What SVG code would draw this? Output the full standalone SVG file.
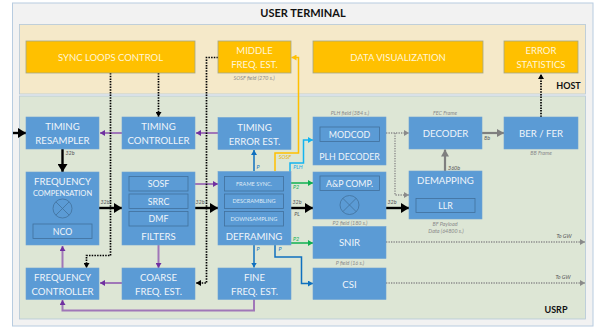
<svg xmlns="http://www.w3.org/2000/svg" width="600" height="330" viewBox="0 0 600 330">
<style>
text{font-family:Lato,"Open Sans","Liberation Sans",sans-serif;text-anchor:middle}
.t{fill:#f0f5fa;font-size:9.600px}
.n{fill:#f0f5fa;font-size:8.800px}
.o{fill:#fff6d8;font-size:9.500px}
.s{fill:#dfeaf5;font-size:5.600px}
.m{fill:#f0f5fa;font-size:7.500px}
.h{fill:#111;font-weight:700}
.c{fill:#8a8a8a;font-size:5.400px;font-style:italic}
.d{fill:#555;font-size:5.400px;font-style:italic}
.b{fill:#5b9bd5;stroke:#6ea3d4;stroke-width:.6}
.i{fill:none;stroke:#41719c;stroke-width:.8}
.y{fill:#ffc000;stroke:#a3a789;stroke-width:.8}
.l{fill:none}
.k{stroke:#000;stroke-width:2.400;marker-end:url(#ak)}
.kd{stroke:#000;stroke-width:1.700;stroke-dasharray:1.500 1.200;marker-end:url(#akd)}
.p{stroke:#a077b8;stroke-width:2;marker-end:url(#ap)}
.g{stroke:#7f7f7f;stroke-width:2.200;marker-end:url(#ag)}
.gd{stroke:#8a8a8a;stroke-width:1.400;stroke-dasharray:1.300 1.200;marker-end:url(#agd)}
.bl{stroke:#0f70bf;stroke-width:1.500;marker-end:url(#abl)}
.gr{stroke:#0fb050;stroke-width:1.500;marker-end:url(#agr)}
.cy{stroke:#14b4f0;stroke-width:1.500;marker-end:url(#acy)}
.or{stroke:#ffc000;stroke-width:1.500;marker-end:url(#aor)}
</style>
<defs>
<marker id="ak" markerUnits="userSpaceOnUse" markerWidth="9" markerHeight="10" refX="8" refY="5" orient="auto"><path d="M0 0L8 5L0 10z" fill="#000"/></marker>
<marker id="akd" markerUnits="userSpaceOnUse" markerWidth="6" markerHeight="6" refX="5" refY="3" orient="auto"><path d="M0 0L5 3L0 6z" fill="#000"/></marker>
<marker id="ap" markerUnits="userSpaceOnUse" markerWidth="6" markerHeight="6" refX="5" refY="3" orient="auto"><path d="M0 0L5 3L0 6z" fill="#7030a0"/></marker>
<marker id="ag" markerUnits="userSpaceOnUse" markerWidth="8" markerHeight="8" refX="7" refY="4" orient="auto"><path d="M0 0L7 4L0 8z" fill="#7f7f7f"/></marker>
<marker id="agd" markerUnits="userSpaceOnUse" markerWidth="6" markerHeight="6" refX="5" refY="3" orient="auto"><path d="M0 0L5 3L0 6z" fill="#8a8a8a"/></marker>
<marker id="abl" markerUnits="userSpaceOnUse" markerWidth="6" markerHeight="6" refX="5" refY="3" orient="auto"><path d="M0 0L5 3L0 6z" fill="#0f70bf"/></marker>
<marker id="agr" markerUnits="userSpaceOnUse" markerWidth="6" markerHeight="6" refX="5" refY="3" orient="auto"><path d="M0 0L5 3L0 6z" fill="#0fb050"/></marker>
<marker id="acy" markerUnits="userSpaceOnUse" markerWidth="6" markerHeight="6" refX="5" refY="3" orient="auto"><path d="M0 0L5 3L0 6z" fill="#14b4f0"/></marker>
<marker id="aor" markerUnits="userSpaceOnUse" markerWidth="6" markerHeight="6" refX="5" refY="3" orient="auto"><path d="M0 0L5 3L0 6z" fill="#ffc000"/></marker>
</defs>
<rect width="600" height="330" fill="#fff"/>
<g id="user-terminal">
<rect x="12.500" y="3" width="580.500" height="323" fill="#f2f2f2" stroke="#b8cce0" stroke-width="1"/>
<text class="h" x="303" y="17" style="font-size:11px">USER TERMINAL</text>
</g>
<g id="host">
<rect x="19.500" y="24.500" width="566" height="69.500" fill="#f5e9c9" stroke="#b4c7d8" stroke-width=".8"/>
<text class="h" x="568.500" y="89" style="font-size:9px">HOST</text>
</g>
<g id="usrp">
<rect x="19.500" y="96" width="566" height="223" fill="#dde6d5" stroke="#b4c7d8" stroke-width=".8"/>
<text class="h" x="556" y="313" style="font-size:9px">USRP</text>
</g>
<g id="connectors" class="l">
<path class="k" d="M13 133H26"/>
<path class="k" d="M62.500 149V172"/>
<path class="k" d="M99 208H122"/>
<path class="k" d="M195 208H218"/>
<path class="k" d="M291 208H313"/>
<path class="k" d="M386 208H409"/>
<path class="p" d="M122 133H100"/>
<path class="p" d="M218 133H196"/>
<path class="p" d="M195 184H218"/>
<path class="p" d="M158.500 245V268"/>
<path class="p" d="M122 283H100"/>
<path class="p" d="M62.500 268V246"/>
<path class="p" d="M254 299V310.500H62.500V300"/>
<path class="kd" d="M110.500 73V255.500H86.500V268"/>
<path class="kd" d="M158.500 73V117"/>
<path class="kd" d="M218 57.500H206.500V283H196"/>
<path class="kd" d="M541 117V74"/>
<path class="or" d="M275 171V153H298.500V57.500H291.500"/>
<path class="cy" d="M290 172V163H303.500V140H313"/>
<path class="bl" d="M254 171V150"/>
<path class="bl" d="M254 245V267.500"/>
<path class="bl" d="M275 245V257H301.500V283.500H313"/>
<path class="gr" d="M291 183H313"/>
<path class="gr" d="M291 243H313"/>
<path class="g" d="M482 133H504"/>
<path class="g" d="M445 171V149.500"/>
<path class="gd" d="M386 133H409"/>
<path class="gd" d="M395 133V195H409"/>
<path class="gd" d="M386 242H585"/>
<path class="gd" d="M386 283H585"/>
</g>
<g id="sync-loops-control"><rect class="y" x="26" y="41" width="169" height="32"/><text class="o" x="110.500" y="60.500">SYNC LOOPS CONTROL</text></g>
<g id="middle-freq-est"><rect class="y" x="218" y="41" width="73" height="32"/><text class="o" x="254.500" y="54">MIDDLE</text><text class="o" x="254.500" y="68">FREQ. EST.</text></g>
<g id="data-visualization"><rect class="y" x="313" y="41" width="170" height="32"/><text class="o" x="398" y="60.500">DATA VISUALIZATION</text></g>
<g id="error-statistics"><rect class="y" x="504" y="41" width="74" height="32"/><text class="o" x="541" y="54">ERROR</text><text class="o" x="541" y="68">STATISTICS</text></g>
<g id="timing-resampler"><rect class="b" x="26" y="117" width="73" height="32"/><text class="t" x="62.500" y="130">TIMING</text><text class="t" x="62.500" y="144">RESAMPLER</text></g>
<g id="timing-controller"><rect class="b" x="122" y="117" width="73" height="32"/><text class="t" x="158.500" y="130">TIMING</text><text class="t" x="158.500" y="144">CONTROLLER</text></g>
<g id="timing-error-est"><rect class="b" x="218" y="117.500" width="73" height="32"/><text class="t" x="254.500" y="130.500">TIMING</text><text class="t" x="254.500" y="144.500">ERROR EST.</text></g>
<g id="plh-decoder"><rect class="b" x="313" y="117" width="73" height="48"/><rect class="i" x="320" y="127" width="59.500" height="14.500"/><text class="n" x="349.500" y="137.500">MODCOD</text><text class="n" x="349.500" y="160">PLH DECODER</text></g>
<g id="decoder"><rect class="b" x="409" y="117" width="73" height="32"/><text class="t" x="445.500" y="136.500">DECODER</text></g>
<g id="ber-fer"><rect class="b" x="504" y="117" width="74" height="32"/><text class="t" x="541" y="136.500">BER / FER</text></g>
<g id="frequency-compensation"><rect class="b" x="26" y="172" width="73" height="73"/><text class="t" x="62.500" y="184.500">FREQUENCY</text><text class="m" x="62.500" y="195.500">COMPENSATION</text><circle class="i" cx="62.500" cy="208.500" r="9.500"/><path class="i" d="M55.800 201.800L69.200 215.200M69.200 201.800L55.800 215.200"/><rect class="i" x="33" y="224" width="59" height="14.500"/><text class="n" x="62.500" y="234.500">NCO</text></g>
<g id="filters"><rect class="b" x="122" y="172" width="73" height="73"/><rect class="i" x="129" y="176.500" width="59" height="14.500"/><text class="n" x="158.500" y="187">SOSF</text><rect class="i" x="129" y="194" width="59" height="14.500"/><text class="n" x="158.500" y="204.500">SRRC</text><rect class="i" x="129" y="211.500" width="59" height="14.500"/><text class="n" x="158.500" y="222">DMF</text><text class="t" x="158.500" y="239.500">FILTERS</text></g>
<g id="deframing"><rect class="b" x="218" y="171.500" width="73" height="73.500"/><rect class="i" x="224.500" y="176.500" width="59" height="14.500"/><text class="s" x="254" y="186">FRAME SYNC.</text><rect class="i" x="224.500" y="194" width="59" height="14.500"/><text class="s" x="254" y="203">DESCRAMBLING</text><rect class="i" x="224.500" y="211.500" width="59" height="14.500"/><text class="s" x="254" y="220.500">DOWNSAMPLING</text><text class="t" x="254" y="239.500">DEFRAMING</text></g>
<g id="ap-comp"><rect class="b" x="313" y="172" width="73" height="47"/><rect class="i" x="320" y="176" width="59.500" height="14.500"/><text class="n" x="349.500" y="186.500">A&amp;P COMP.</text><circle class="i" cx="349.500" cy="205" r="9.500"/><path class="i" d="M342.800 198.300L356.200 211.700M356.200 198.300L342.800 211.700"/></g>
<g id="demapping"><rect class="b" x="409" y="171" width="73" height="48"/><text class="t" x="445.500" y="184">DEMAPPING</text><rect class="i" x="416" y="198.500" width="59" height="14"/><text class="n" x="445.500" y="209">LLR</text></g>
<g id="snir"><rect class="b" x="313" y="226.500" width="73" height="32"/><text class="t" x="349.500" y="246">SNIR</text></g>
<g id="csi"><rect class="b" x="313" y="268" width="73" height="31.500"/><text class="t" x="349.500" y="287.500">CSI</text></g>
<g id="frequency-controller"><rect class="b" x="26" y="268" width="73" height="31.500"/><text class="t" x="62.500" y="281">FREQUENCY</text><text class="t" x="62.500" y="295">CONTROLLER</text></g>
<g id="coarse-freq-est"><rect class="b" x="122" y="268" width="73" height="31.500"/><text class="t" x="158.500" y="281">COARSE</text><text class="t" x="158.500" y="295">FREQ. EST.</text></g>
<g id="fine-freq-est"><rect class="b" x="218" y="268" width="73" height="31.500"/><text class="t" x="254.500" y="281">FINE</text><text class="t" x="254.500" y="295">FREQ. EST.</text></g>
<g id="labels">
<text class="c" x="254" y="80">SOSF field (270 s.)</text>
<text class="c" x="350" y="115">PLH field (384 s.)</text>
<text class="c" x="445" y="115">FEC Frame</text>
<text class="c" x="541" y="155">BB Frame</text>
<text class="c" x="350" y="225">P2 field (180 s.)</text>
<text class="c" x="445" y="226">BF Payload</text>
<text class="c" x="446" y="232.500">Data (64800 s.)</text>
<text class="c" x="350" y="265">P field (16 s.)</text>
<text class="d" x="70" y="155">32b</text>
<text class="d" x="105" y="204">32b</text>
<text class="d" x="200" y="204">32b</text>
<text class="d" x="297" y="204">32b</text>
<text class="d" x="297" y="216">PL</text>
<text class="d" x="392" y="204">32b</text>
<text class="d" x="487" y="140">8b</text>
<text class="d" x="454" y="170">360b</text>
<text class="d" x="564" y="238">To GW</text>
<text class="d" x="563" y="279">To GW</text>
<text class="d" style="fill:#0f70bf" x="258" y="169">P</text>
<text class="d" style="fill:#0f70bf" x="258" y="251">P</text>
<text class="d" style="fill:#0f70bf" x="280" y="251">P</text>
<text class="d" style="fill:#e8b000" x="285" y="159">SOSF</text>
<text class="d" style="fill:#14a8e8" x="298" y="169">PLH</text>
<text class="d" style="fill:#0fb050" x="296" y="189">P2</text>
<text class="d" style="fill:#0fb050" x="296" y="241">P2</text>
</g>
</svg>
